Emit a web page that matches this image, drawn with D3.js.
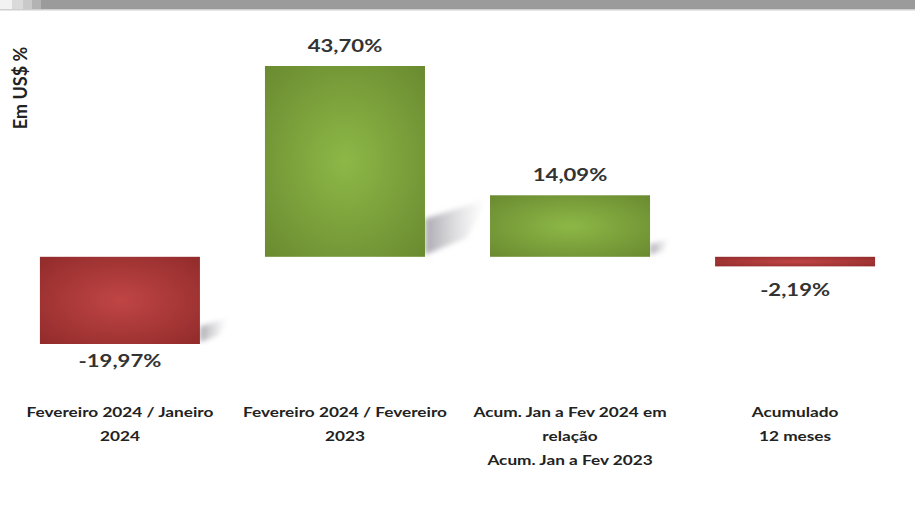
<!DOCTYPE html>
<html><head><meta charset="utf-8">
<script src="https://cdn.jsdelivr.net/npm/d3@7"></script>
<style>body{margin:0;background:#fff;}svg{display:block;}</style>
</head><body>
<svg id="c" width="915" height="508"></svg>
<script>
const categories = [
  ["Fevereiro 2024 / Janeiro", "2024"],
  ["Fevereiro 2024 / Fevereiro", "2023"],
  ["Acum. Jan a Fev 2024 em", "relação", "Acum. Jan a Fev 2023"],
  ["Acumulado", "12 meses"]
];
const values = [-19.97, 43.70, 14.09, -2.19];
const valueLabels = ["-19,97%", "43,70%", "14,09%", "-2,19%"];
const yTitle = "Em US$ %";

const svg = d3.select("#c");
const W = 915, H = 508;
const font = "Lato, 'Open Sans', sans-serif";

// top header band
const hdr = [["#f2f2f2",0,12],["#dadada",12,23],["#c9c9c9",23,32],["#b3b3b3",32,41],["#9b9b9b",41,915]];
hdr.forEach(h => svg.append("rect").attr("x",h[1]).attr("y",0).attr("width",h[2]-h[1]).attr("height",9).attr("fill",h[0]));
svg.append("rect").attr("x",0).attr("y",9).attr("width",W).attr("height",1.5).attr("fill","#cfcfcf");

const x = d3.scaleBand().domain(d3.range(values.length)).range([7.5, 907.5]).paddingInner(0.289).paddingOuter(0.144);
const y = d3.scaleLinear().domain([-19.97, 43.70]).range([344, 66]);
const y0 = y(0);

const defs = svg.append("defs");
function radial(id, c0, c1) {
  const g = defs.append("radialGradient").attr("id", id).attr("cx","50%").attr("cy","50%").attr("r","70%");
  g.append("stop").attr("offset","0%").attr("stop-color",c0);
  g.append("stop").attr("offset","100%").attr("stop-color",c1);
}
radial("gGreen", "#8db847", "#6a8a30");
radial("gRed", "#c04545", "#922b2b");
const sg = defs.append("linearGradient").attr("id","gShadow").attr("x1","0%").attr("x2","100%").attr("y1","0%").attr("y2","0%");
sg.append("stop").attr("offset","0%").attr("stop-color","#9a9aa2").attr("stop-opacity",0.85);
sg.append("stop").attr("offset","100%").attr("stop-color","#c8c8cc").attr("stop-opacity",0);
defs.append("filter").attr("id","blur").append("feGaussianBlur").attr("stdDeviation",2.5);

// shadows
values.forEach((v,i) => {
  const h = Math.abs(y(v) - y0);
  if (h < 15) return;
  const xr = x(i) + x.bandwidth();
  const yb = v >= 0 ? y0 : y(v);
  const pts = [[xr, yb-2],[xr, yb-0.2*h],[xr+0.32*h, yb-0.3*h],[xr+0.22*h, yb-0.1*h]];
  svg.append("polygon").attr("points", pts.map(p=>p.join(",")).join(" "))
    .attr("fill","url(#gShadow)").attr("filter","url(#blur)");
});

// bars
svg.selectAll("rect.bar").data(values).join("rect").attr("class","bar")
  .attr("x",(d,i)=>x(i)).attr("width",x.bandwidth())
  .attr("y",d=>Math.min(y(d),y0)).attr("height",d=>Math.abs(y(d)-y0))
  .attr("fill",d=>d>=0?"url(#gGreen)":"url(#gRed)");

// value labels
svg.selectAll("text.val").data(values).join("text").attr("class","val")
  .attr("transform",(d,i)=>{
    const cx = x(i)+x.bandwidth()/2;
    const by = d>=0 ? y(d)-14 : Math.max(y(d)+23, y0+39);
    return `translate(${cx},${by}) scale(1.3,1)`;
  })
  .attr("text-anchor","middle").attr("font-family",font).attr("font-weight","bold")
  .attr("font-size",17).attr("fill","#333").text((d,i)=>valueLabels[i]);

// category labels
categories.forEach((lines,i) => {
  const cx = x(i)+x.bandwidth()/2;
  lines.forEach((l,j) => svg.append("text").attr("text-anchor","middle").attr("font-family",font)
    .attr("font-weight","bold").attr("font-size",14).attr("fill","#222")
    .attr("transform",`translate(${cx},${417 + j*24}) scale(1.23,1)`).text(l));
});

// y title
svg.append("text").attr("transform","translate(27,88) rotate(-90)").attr("text-anchor","middle")
  .attr("font-family",font).attr("font-weight","bold").attr("font-size",18).attr("fill","#222").text(yTitle);
</script>
</body></html>
